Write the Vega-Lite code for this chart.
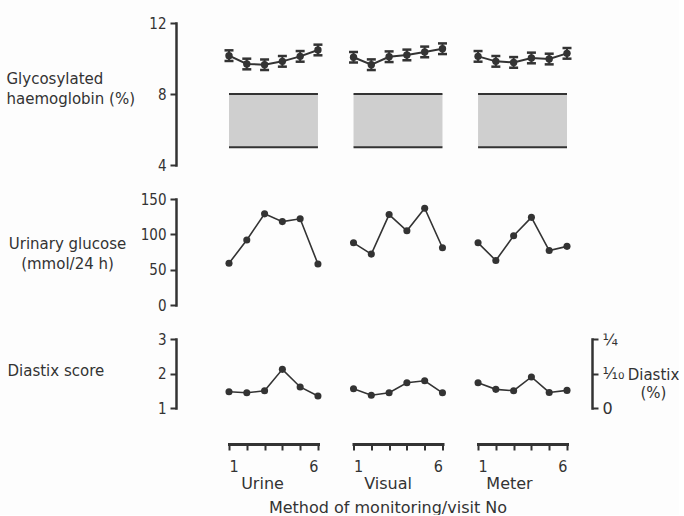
{
  "$schema": "https://vega.github.io/schema/vega-lite/v6.json",
  "background": "#fdfdfd",
  "padding": {"left": 6, "top": 16, "right": 0, "bottom": 0},
  "config": {
    "view": {"stroke": null},
    "font": "DejaVu Sans",
    "axis": {
      "grid": false,
      "domainColor": "#333",
      "domainWidth": 2.5,
      "domainCap": "square",
      "tickColor": "#333",
      "tickWidth": 2,
      "tickSize": 6,
      "labelFont": "DejaVu Sans Condensed, DejaVu Sans",
      "labelFontSize": 15,
      "labelColor": "#333",
      "labelPadding": 4,
      "labelOverlap": false,
      "titleFont": "DejaVu Sans",
      "titleFontSize": 15,
      "titleFontWeight": "normal",
      "titleColor": "#333"
    }
  },
  "datasets": {
    "main": [
      {"method": "Urine", "visit": 1, "hb": 10.16, "hbErr": 0.3, "glucose": 59, "diastix": 1.47},
      {"method": "Urine", "visit": 2, "hb": 9.69, "hbErr": 0.3, "glucose": 92, "diastix": 1.44},
      {"method": "Urine", "visit": 3, "hb": 9.65, "hbErr": 0.3, "glucose": 129, "diastix": 1.5},
      {"method": "Urine", "visit": 4, "hb": 9.84, "hbErr": 0.3, "glucose": 118, "diastix": 2.12},
      {"method": "Urine", "visit": 5, "hb": 10.12, "hbErr": 0.3, "glucose": 122, "diastix": 1.61},
      {"method": "Urine", "visit": 6, "hb": 10.48, "hbErr": 0.3, "glucose": 58, "diastix": 1.35},
      {"method": "Visual", "visit": 1, "hb": 10.07, "hbErr": 0.3, "glucose": 88, "diastix": 1.56},
      {"method": "Visual", "visit": 2, "hb": 9.65, "hbErr": 0.3, "glucose": 72, "diastix": 1.37},
      {"method": "Visual", "visit": 3, "hb": 10.1, "hbErr": 0.3, "glucose": 128, "diastix": 1.44},
      {"method": "Visual", "visit": 4, "hb": 10.2, "hbErr": 0.3, "glucose": 105, "diastix": 1.73},
      {"method": "Visual", "visit": 5, "hb": 10.37, "hbErr": 0.3, "glucose": 137, "diastix": 1.79},
      {"method": "Visual", "visit": 6, "hb": 10.55, "hbErr": 0.3, "glucose": 81, "diastix": 1.44},
      {"method": "Meter", "visit": 1, "hb": 10.12, "hbErr": 0.3, "glucose": 88, "diastix": 1.73},
      {"method": "Meter", "visit": 2, "hb": 9.84, "hbErr": 0.3, "glucose": 63, "diastix": 1.54},
      {"method": "Meter", "visit": 3, "hb": 9.78, "hbErr": 0.3, "glucose": 98, "diastix": 1.5},
      {"method": "Meter", "visit": 4, "hb": 10.03, "hbErr": 0.3, "glucose": 124, "diastix": 1.9},
      {"method": "Meter", "visit": 5, "hb": 9.97, "hbErr": 0.3, "glucose": 77, "diastix": 1.45},
      {"method": "Meter", "visit": 6, "hb": 10.29, "hbErr": 0.3, "glucose": 83, "diastix": 1.51}
    ],
    "bands": [
      {"method": "Urine", "low": 5, "high": 8},
      {"method": "Visual", "low": 5, "high": 8},
      {"method": "Meter", "low": 5, "high": 8}
    ]
  },
  "spacing": 34,
  "bounds": "flush",
  "vconcat": [
    {
      "width": 338,
      "height": 142,
      "data": {"name": "main"},
      "transform": [
        {"calculate": "datum.visit + (datum.method == 'Visual' ? 7 : datum.method == 'Meter' ? 14 : 0)", "as": "pos"},
        {"calculate": "datum.hb - datum.hbErr", "as": "hbLo"},
        {"calculate": "datum.hb + datum.hbErr", "as": "hbHi"}
      ],
      "layer": [
        {
          "data": {"name": "bands"},
          "transform": [
            {"calculate": "datum.method == 'Visual' ? 7 : datum.method == 'Meter' ? 14 : 0", "as": "off"},
            {"calculate": "1 + datum.off", "as": "start"},
            {"calculate": "6 + datum.off", "as": "end"}
          ],
          "layer": [
            {
              "mark": {"type": "rect", "fill": "#cfcfcf"},
              "encoding": {
                "x": {"field": "start", "type": "quantitative", "scale": {"domain": [1, 20], "nice": false, "zero": false}, "axis": null},
                "x2": {"field": "end"},
                "y": {"field": "low", "type": "quantitative", "scale": {"domain": [4, 12], "nice": false, "zero": false}},
                "y2": {"field": "high"}
              }
            },
            {
              "mark": {"type": "rule", "color": "#333", "strokeWidth": 2},
              "encoding": {
                "x": {"field": "start", "type": "quantitative", "axis": null},
                "x2": {"field": "end"},
                "y": {"field": "high", "type": "quantitative"}
              }
            },
            {
              "mark": {"type": "rule", "color": "#333", "strokeWidth": 2},
              "encoding": {
                "x": {"field": "start", "type": "quantitative", "axis": null},
                "x2": {"field": "end"},
                "y": {"field": "low", "type": "quantitative"}
              }
            }
          ]
        },
        {
          "mark": {"type": "rule", "color": "#333", "strokeWidth": 2},
          "encoding": {
            "x": {"field": "pos", "type": "quantitative", "axis": null},
            "y": {"field": "hbLo", "type": "quantitative"},
            "y2": {"field": "hbHi"}
          }
        },
        {
          "mark": {"type": "tick", "orient": "horizontal", "color": "#333", "size": 9, "thickness": 2.5, "opacity": 1},
          "encoding": {
            "x": {"field": "pos", "type": "quantitative", "axis": null},
            "y": {"field": "hbLo", "type": "quantitative"}
          }
        },
        {
          "mark": {"type": "tick", "orient": "horizontal", "color": "#333", "size": 9, "thickness": 2.5, "opacity": 1},
          "encoding": {
            "x": {"field": "pos", "type": "quantitative", "axis": null},
            "y": {"field": "hbHi", "type": "quantitative"}
          }
        },
        {
          "mark": {"type": "line", "color": "#333", "strokeWidth": 2},
          "encoding": {
            "x": {"field": "pos", "type": "quantitative", "axis": null},
            "y": {"field": "hb", "type": "quantitative"},
            "detail": {"field": "method"}
          }
        },
        {
          "mark": {"type": "point", "filled": true, "color": "#333", "opacity": 1, "size": 55},
          "encoding": {
            "x": {"field": "pos", "type": "quantitative", "axis": null},
            "y": {
              "field": "hb", "type": "quantitative",
              "axis": {
                "values": [4, 8, 12], "offset": 53,
                "title": ["Glycosylated", "haemoglobin (%)"],
                "titleAngle": 0, "titleAlign": "left", "titleBaseline": "middle",
                "titleX": -170, "titleY": 55, "titleLineHeight": 20
              }
            }
          }
        }
      ]
    },
    {
      "width": 338,
      "height": 106,
      "data": {"name": "main"},
      "transform": [
        {"calculate": "datum.visit + (datum.method == 'Visual' ? 7 : datum.method == 'Meter' ? 14 : 0)", "as": "pos"}
      ],
      "encoding": {
        "x": {"field": "pos", "type": "quantitative", "scale": {"domain": [1, 20], "nice": false, "zero": false}, "axis": null},
        "y": {
          "field": "glucose", "type": "quantitative",
          "scale": {"domain": [0, 150], "nice": false},
          "axis": {
            "values": [0, 50, 100, 150], "offset": 53,
            "title": ["Urinary glucose", "(mmol/24 h)"],
            "titleAngle": 0, "titleAlign": "center", "titleBaseline": "middle",
            "titleX": -109, "titleY": 44, "titleLineHeight": 20
          }
        }
      },
      "layer": [
        {"mark": {"type": "line", "color": "#333", "strokeWidth": 1.6}, "encoding": {"detail": {"field": "method"}}},
        {"mark": {"type": "point", "filled": true, "color": "#333", "opacity": 1, "size": 50}}
      ]
    },
    {
      "width": 338,
      "height": 69,
      "data": {"name": "main"},
      "transform": [
        {"calculate": "datum.visit + (datum.method == 'Visual' ? 7 : datum.method == 'Meter' ? 14 : 0)", "as": "pos"}
      ],
      "resolve": {"scale": {"y": "independent"}, "axis": {"y": "independent"}},
      "layer": [
        {
          "mark": {"type": "line", "color": "#333", "strokeWidth": 1.6},
          "encoding": {
            "x": {"field": "pos", "type": "quantitative", "scale": {"domain": [1, 20], "nice": false, "zero": false}, "axis": null},
            "y": {
              "field": "diastix", "type": "quantitative",
              "scale": {"domain": [1, 3], "nice": false, "zero": false},
              "axis": {
                "values": [1, 2, 3], "offset": 53,
                "labelExpr": "'' + datum.value",
                "title": "Diastix score",
                "titleAngle": 0, "titleAlign": "left", "titleBaseline": "middle",
                "titleX": -169, "titleY": 31
              }
            },
            "detail": {"field": "method"}
          }
        },
        {
          "mark": {"type": "point", "filled": true, "color": "#333", "opacity": 1, "size": 50},
          "encoding": {
            "x": {"field": "pos", "type": "quantitative", "axis": null},
            "y": {
              "field": "diastix", "type": "quantitative",
              "scale": {"domain": [1, 3], "nice": false, "zero": false},
              "axis": {
                "orient": "right", "values": [1, 2, 3], "offset": 25,
                "labelExpr": "datum.value == 3 ? '¼' : datum.value == 2 ? '⅒' : '0'",
                "labelFont": "DejaVu Sans", "labelFontSize": 16,
                "title": ["Diastix", "(%)"],
                "titleAngle": 0, "titleAlign": "center", "titleBaseline": "middle",
                "titleX": 61, "titleY": 35, "titleLineHeight": 18
              }
            }
          }
        }
      ]
    },
    {
      "hconcat": [
        {
          "width": 89, "height": 2,
          "data": {"name": "main"},
          "transform": [{"filter": "datum.method == 'Urine'"}],
          "mark": {"type": "point", "opacity": 0},
          "encoding": {
            "x": {
              "field": "visit", "type": "quantitative",
              "scale": {"domain": [1, 6], "nice": false, "zero": false},
              "axis": {
                "values": [1, 2, 3, 4, 5, 6],
                "labelExpr": "datum.value == 1 || datum.value == 6 ? datum.label : ''",
                "labelFontSize": 16, "labelPadding": 8, "domainWidth": 3,
                "title": "Urine", "titleFontSize": 16, "titlePadding": 1, "titleX": 33
              }
            }
          }
        },
        {
          "width": 89, "height": 2,
          "data": {"name": "main"},
          "transform": [{"filter": "datum.method == 'Visual'"}],
          "mark": {"type": "point", "opacity": 0},
          "encoding": {
            "x": {
              "field": "visit", "type": "quantitative",
              "scale": {"domain": [1, 6], "nice": false, "zero": false},
              "axis": {
                "values": [1, 2, 3, 4, 5, 6],
                "labelExpr": "datum.value == 1 || datum.value == 6 ? datum.label : ''",
                "labelFontSize": 16, "labelPadding": 8, "domainWidth": 3,
                "title": ["Visual", "Method  of monitoring/visit No"], "titleFontSize": 16, "titleLineHeight": 24,
                "titlePadding": 1, "titleX": 34
              }
            }
          }
        },
        {
          "width": 89, "height": 2,
          "data": {"name": "main"},
          "transform": [{"filter": "datum.method == 'Meter'"}],
          "mark": {"type": "point", "opacity": 0},
          "encoding": {
            "x": {
              "field": "visit", "type": "quantitative",
              "scale": {"domain": [1, 6], "nice": false, "zero": false},
              "axis": {
                "values": [1, 2, 3, 4, 5, 6],
                "labelExpr": "datum.value == 1 || datum.value == 6 ? datum.label : ''",
                "labelFontSize": 16, "labelPadding": 8, "domainWidth": 3,
                "title": "Meter", "titleFontSize": 16, "titlePadding": 1, "titleX": 31
              }
            }
          }
        }
      ],
      "spacing": 35.5,
      "bounds": "flush"
    }
  ]
}
